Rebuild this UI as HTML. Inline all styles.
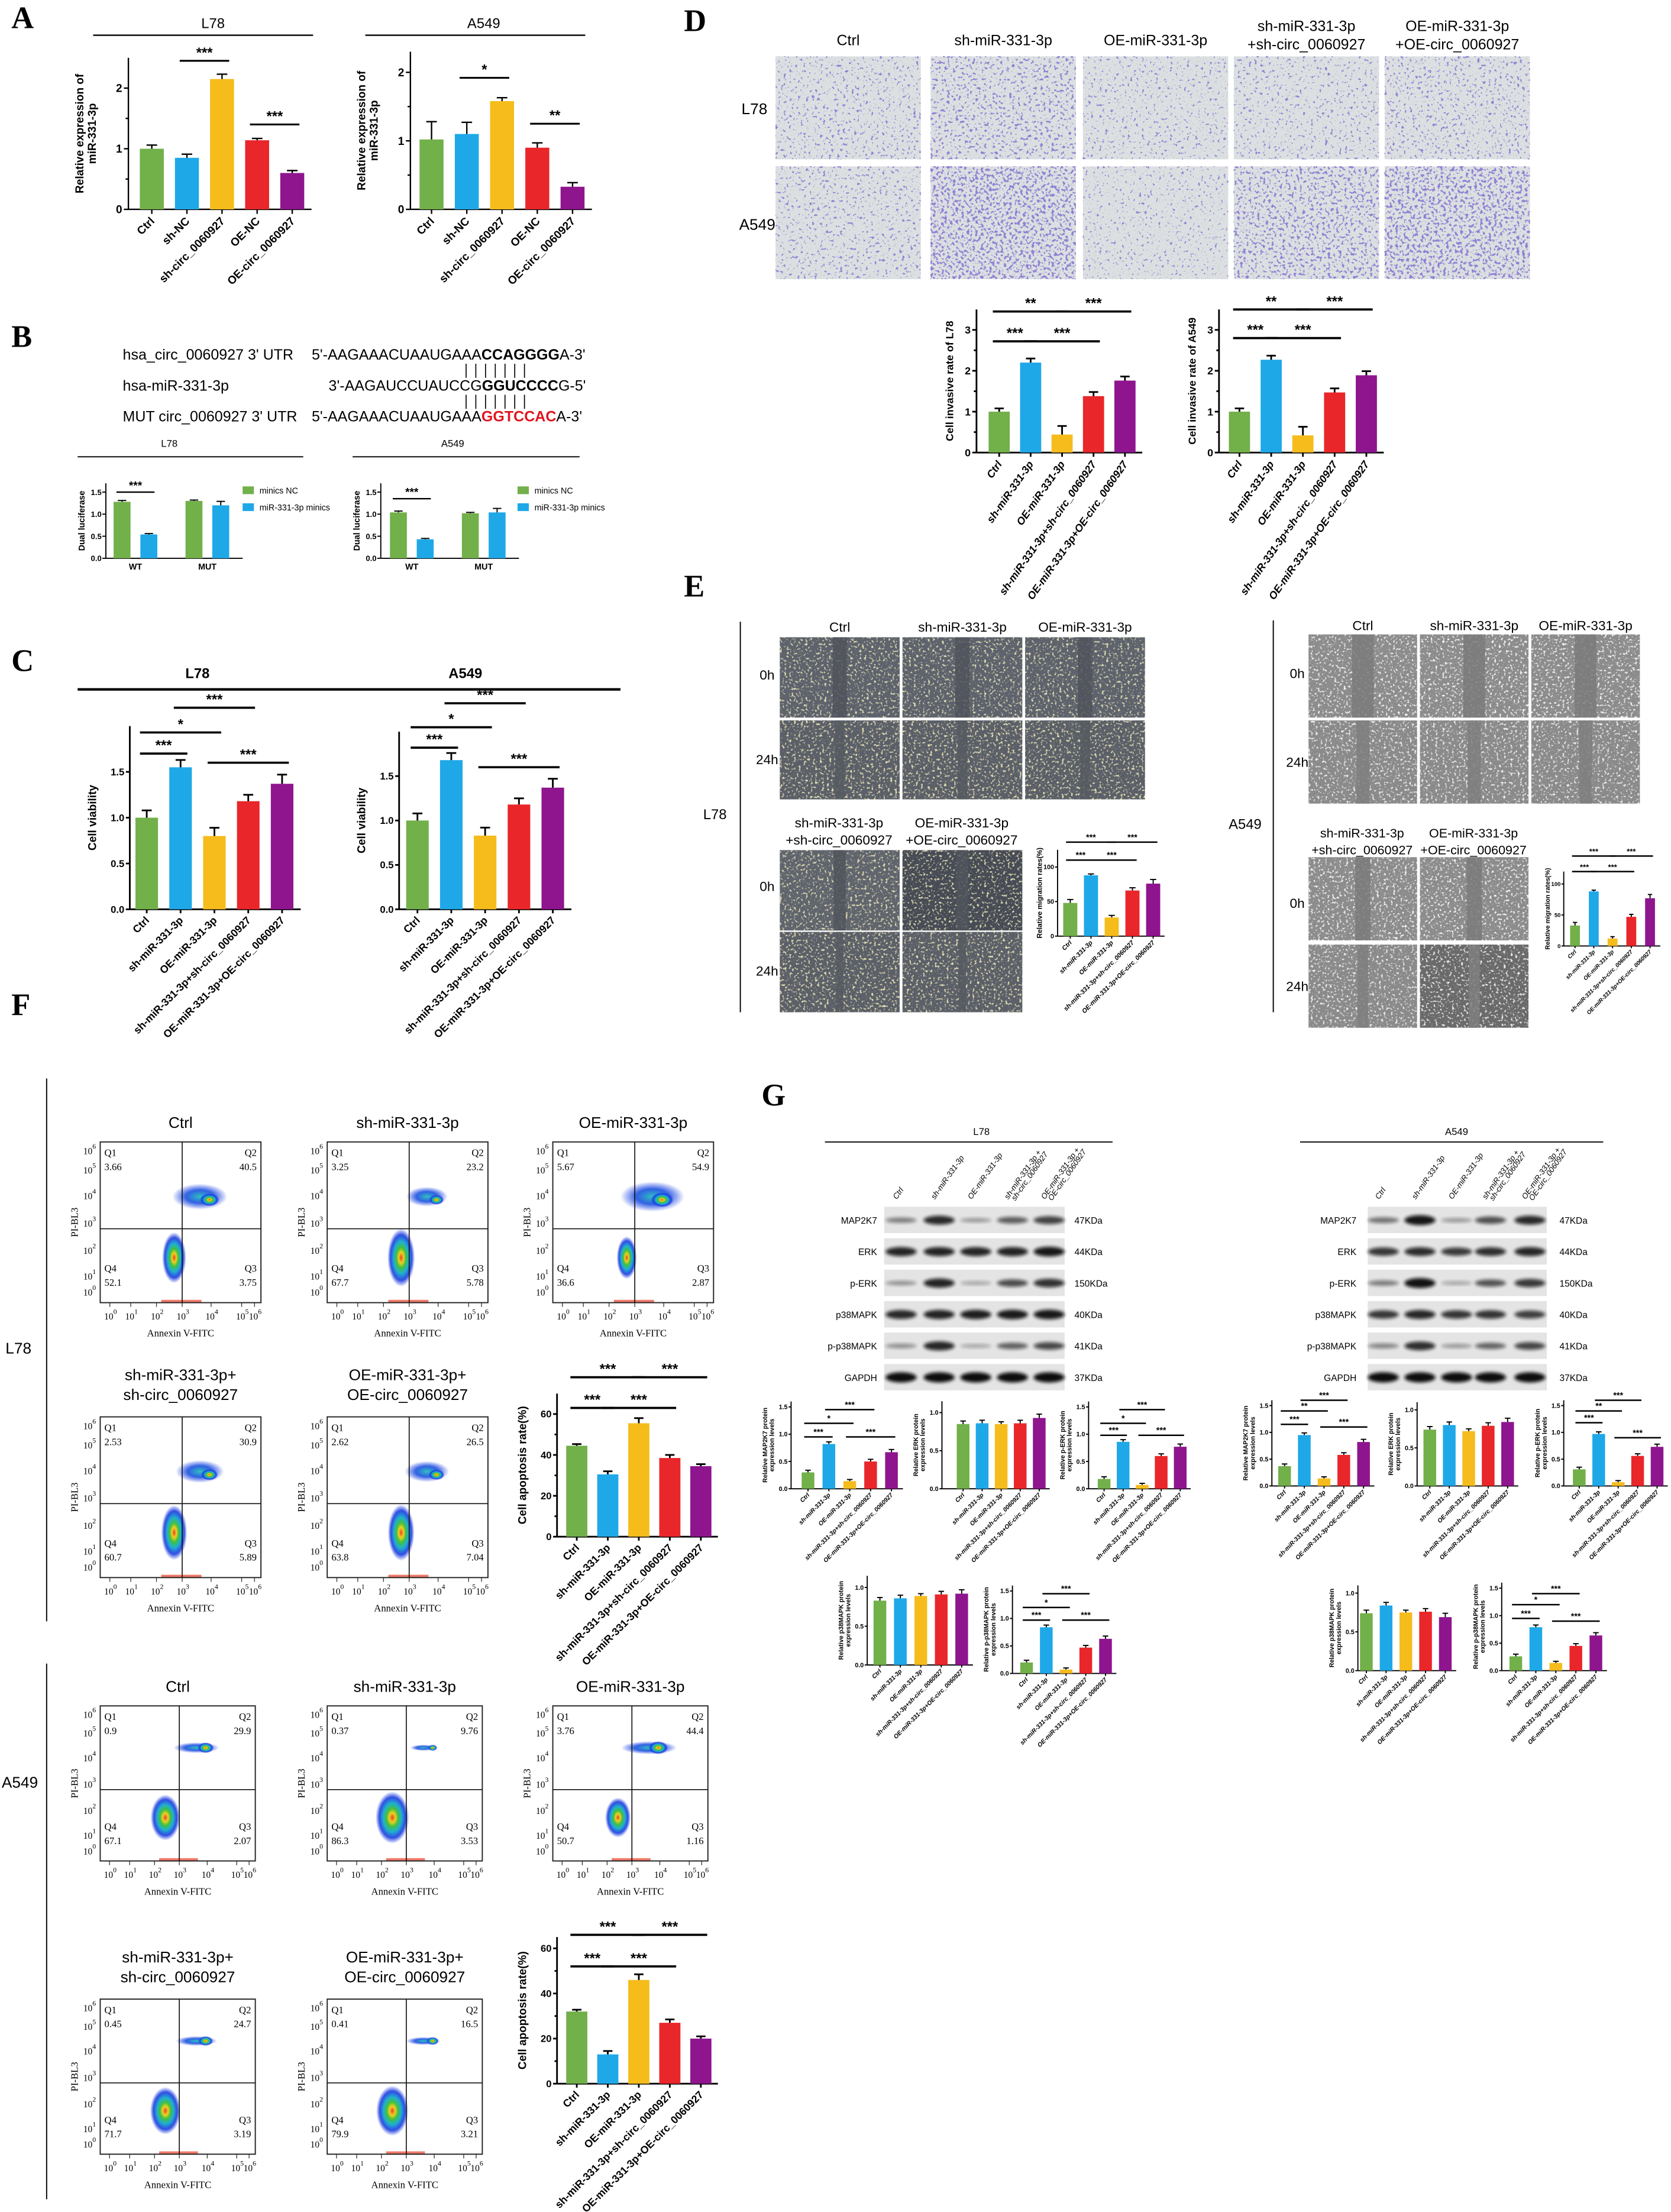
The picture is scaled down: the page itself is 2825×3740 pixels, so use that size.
<!DOCTYPE html>
<html><head><meta charset="utf-8">
<style>
html,body{margin:0;padding:0;background:#fff}
svg{display:block;font-family:"Liberation Sans",Arial,sans-serif}
.serif{font-family:"Liberation Serif","Times New Roman",serif}
</style></head>
<body>
<svg id="fig" xmlns="http://www.w3.org/2000/svg" width="2825" height="3740" viewBox="0 0 1185 1569">
<defs>
<filter id="blur1" x="-20%" y="-50%" width="140%" height="200%"><feGaussianBlur stdDeviation="1.2"/></filter>
<radialGradient id="fc">
<stop offset="0" stop-color="#e8402a"/>
<stop offset="0.18" stop-color="#f0d020"/>
<stop offset="0.35" stop-color="#40c040"/>
<stop offset="0.55" stop-color="#20b0d0"/>
<stop offset="0.78" stop-color="#1a3ae0" stop-opacity="0.9"/>
<stop offset="1" stop-color="#1a3ae0" stop-opacity="0"/>
</radialGradient>
<radialGradient id="fcb">
<stop offset="0" stop-color="#30c0c0"/>
<stop offset="0.5" stop-color="#1a50e0" stop-opacity="0.9"/>
<stop offset="1" stop-color="#1a3ae0" stop-opacity="0"/>
</radialGradient>
</defs>
<g id="root"></g>
</svg>
<script>
// ---------------- DATA ----------------
const colors = ['#72b04a','#1ea8e8','#f5bc1c','#e9262a','#8e158e'];
const aCats = ['Ctrl','sh-NC','sh-circ_0060927','OE-NC','OE-circ_0060927'];
const aL78 = [1.0,0.85,2.15,1.14,0.6];
const aL78Err = [0.06,0.06,0.08,0.03,0.04];
const aA549 = [1.02,1.1,1.58,0.9,0.33];
const aA549Err = [0.26,0.17,0.05,0.07,0.06];
const bCats = ['WT','MUT'];
const bL78Nc = [1.28,1.3];
const bL78Mim = [0.54,1.2];
const bA549Nc = [1.04,1.02];
const bA549Mim = [0.43,1.04];
const bErrNc = [0.03,0.02];
const bErrMim = [0.02,0.09];
const cCats = ['Ctrl','sh-miR-331-3p','OE-miR-331-3p','sh-miR-331-3p+sh-circ_0060927','OE-miR-331-3p+OE-circ_0060927'];
const cL78 = [1.0,1.55,0.8,1.18,1.37];
const cA549 = [1.0,1.68,0.83,1.18,1.37];
const cErr = [0.08,0.08,0.09,0.07,0.1];
const dL78 = [1.0,2.2,0.44,1.38,1.76];
const dA549 = [1.0,2.27,0.42,1.47,1.89];
const dErr = [0.08,0.1,0.21,0.1,0.1];
const eL78 = [48,88,27,66,76];
const eA549 = [33,88,12,47,77];
const eErr = [5,2,3,4,6];
const fL78 = [44.5,30.5,55.5,38.5,34.5];
const fA549 = [32,13,46,27,20];
const fErr = [0.8,1.5,2.5,1.5,1];
const flowTitles = ['Ctrl','sh-miR-331-3p','OE-miR-331-3p','sh-miR-331-3p+|sh-circ_0060927','OE-miR-331-3p+|OE-circ_0060927'];
const flowL78 = [[3.66,40.5,3.75,52.1],[3.25,23.2,5.78,67.7],[5.67,54.9,2.87,36.6],[2.53,30.9,5.89,60.7],[2.62,26.5,7.04,63.8]];
const flowA549 = [[0.90,29.9,2.07,67.1],[0.37,9.76,3.53,86.3],[3.76,44.4,1.16,50.7],[0.45,24.7,3.19,71.7],[0.41,16.5,3.21,79.9]];
const gL78Map = [0.30,0.82,0.14,0.50,0.67];
const gL78Erk = [0.85,0.86,0.85,0.86,0.93];
const gL78Perk = [0.18,0.86,0.07,0.60,0.77];
const gL78P38 = [0.83,0.86,0.89,0.91,0.92];
const gL78Pp38 = [0.20,0.84,0.07,0.47,0.63];
const gA549Map = [0.37,0.95,0.14,0.58,0.82];
const gA549Erk = [0.74,0.80,0.72,0.79,0.84];
const gA549Perk = [0.31,0.97,0.07,0.56,0.73];
const gA549P38 = [0.74,0.84,0.75,0.76,0.69];
const gA549Pp38 = [0.26,0.79,0.14,0.45,0.64];
const gGapdh = [1,1,1,1,1];
const gErr = [0.04,0.04,0.03,0.04,0.05];
const blotRows = ['MAP2K7','ERK','p-ERK','p38MAPK','p-p38MAPK','GAPDH'];
const blotKda = ['47KDa','44KDa','150KDa','40KDa','41KDa','37KDa'];
const blotLanes = ['Ctrl','sh-miR-331-3p','OE-miR-331-3p','sh-miR-331-3p +|sh-circ_0060927','OE-miR-331-3p +|OE-circ_0060927'];

// ---------------- HELPERS ----------------
const NS='http://www.w3.org/2000/svg';
const root=document.getElementById('root');
function mk(tag,attrs,parent){const e=document.createElementNS(NS,tag);for(const k in attrs)e.setAttribute(k,attrs[k]);(parent||root).appendChild(e);return e;}
function txt(s,x,y,fs,parent,extra){const t=mk('text',Object.assign({x:x,y:y,'font-size':fs},extra||{}),parent);t.textContent=s;return t;}

function barChart(name,cfg,cats,vals,errs,sig){
  const g=mk('g',{});
  
  
  const Y=v=>cfg.y0-v*cfg.ppu;
  const n=vals.length;
  const sw=cfg.sw||1;
  const ax=mk('line',{x1:cfg.ax,y1:cfg.y0,x2:cfg.ax,y2:Y(cfg.ymax),stroke:'#000','stroke-width':sw},g);
  
  const xr=cfg.x1+cfg.step*(n-1)+cfg.step*0.55;
  const xa=mk('line',{x1:cfg.ax,y1:cfg.y0,x2:xr,y2:cfg.y0,stroke:'#000','stroke-width':sw},g);
  
  cfg.ticks.forEach(t=>{
    mk('line',{x1:cfg.ax-cfg.fs*0.4,y1:Y(t),x2:cfg.ax,y2:Y(t),stroke:'#000','stroke-width':sw},g);
    const tl=txt(cfg.fmt?t.toFixed(cfg.fmt):String(t),cfg.ax-cfg.fs*0.55,Y(t)+cfg.fs*0.35,cfg.fs,g,{'text-anchor':'end','font-weight':'bold'});
    
  });
  if(cfg.minor){cfg.minor.forEach(t=>mk('line',{x1:cfg.ax-cfg.fs*0.25,y1:Y(t),x2:cfg.ax,y2:Y(t),stroke:'#000','stroke-width':sw},g));}
  const lines=cfg.ylabel.split('|');
  const cy=(cfg.y0+Y(cfg.ymax))/2;
  lines.forEach((l,k)=>{
    const xx=cfg.ax-cfg.ylOff+k*cfg.ylFs*1.1;
    const yl=txt(l,xx,cy,cfg.ylFs,g,{'text-anchor':'middle','font-weight':'bold',transform:`rotate(-90 ${xx} ${cy})`});
    
  });
  vals.forEach((v,i)=>{
    const cx=cfg.x1+i*cfg.step;
    const b=mk('rect',{x:cx-cfg.w/2,y:Y(v),width:cfg.w,height:v*cfg.ppu,fill:colors[i]},g);
    
    
    const e=errs[i];
    mk('line',{x1:cx,y1:Y(v),x2:cx,y2:Y(v+e),stroke:'#000','stroke-width':sw},g);
    mk('line',{x1:cx-cfg.w*0.22,y1:Y(v+e),x2:cx+cfg.w*0.22,y2:Y(v+e),stroke:'#000','stroke-width':sw},g);
    mk('line',{x1:cx,y1:cfg.y0,x2:cx,y2:cfg.y0+cfg.fs*0.4,stroke:'#000','stroke-width':sw},g);
    const lx=cx+cfg.cfs*0.3, ly=cfg.y0+cfg.cfs*1.1;
    const cl=txt(cats[i],lx,ly,cfg.cfs,g,{'text-anchor':'end','font-weight':'bold','font-style':cfg.italic?'italic':'normal',transform:`rotate(${cfg.rot||-45} ${lx} ${ly})`});
    
  });
  (sig||[]).forEach(s=>{
    const xa1=cfg.x1+s[0]*cfg.step-cfg.w*0.3, xa2=cfg.x1+s[1]*cfg.step+cfg.w*0.3, yy=Y(s[2]);
    const ln=mk('line',{x1:xa1,y1:yy,x2:xa2,y2:yy,stroke:'#000','stroke-width':sw*1.3},g);
    
    const st=txt(s[3],(xa1+xa2)/2,yy-cfg.sfs*0.25,cfg.sfs,g,{'text-anchor':'middle','font-weight':'bold'});
    
  });
  return g;
}

function grouped(name,cfg,nc,mim,sig){
  const g=mk('g',{});
  
  
  const Y=v=>cfg.y0-v*cfg.ppu;
  mk('line',{x1:cfg.ax,y1:cfg.y0,x2:cfg.ax,y2:Y(1.7),stroke:'#000','stroke-width':0.8},g);
  mk('line',{x1:cfg.ax,y1:cfg.y0,x2:cfg.c[1]+25,y2:cfg.y0,stroke:'#000','stroke-width':0.8},g);
  [0,0.5,1,1.5].forEach(t=>{
    mk('line',{x1:cfg.ax-2.5,y1:Y(t),x2:cfg.ax,y2:Y(t),stroke:'#000','stroke-width':0.8},g);
    const tl=txt(t.toFixed(1),cfg.ax-3,Y(t)+2,5.5,g,{'text-anchor':'end','font-weight':'bold'});
    
  });
  const cy=(cfg.y0+Y(1.7))/2;
  const yl=txt('Dual luciferase',cfg.ax-15,cy,6,g,{'text-anchor':'middle','font-weight':'bold',transform:`rotate(-90 ${cfg.ax-15} ${cy})`});
  
  bCats.forEach((c,i)=>{
    const x0=cfg.c[i]-cfg.off, x1=cfg.c[i]+cfg.off;
    const r1=mk('rect',{x:x0-6,y:Y(nc[i]),width:12,height:nc[i]*cfg.ppu,fill:colors[0]},g);
    
    const r2=mk('rect',{x:x1-6,y:Y(mim[i]),width:12,height:mim[i]*cfg.ppu,fill:colors[1]},g);
    
    [[x0,nc[i],bErrNc[i]],[x1,mim[i],bErrMim[i]]].forEach(p=>{
      mk('line',{x1:p[0],y1:Y(p[1]),x2:p[0],y2:Y(p[1]+p[2]),stroke:'#000','stroke-width':0.8},g);
      mk('line',{x1:p[0]-3,y1:Y(p[1]+p[2]),x2:p[0]+3,y2:Y(p[1]+p[2]),stroke:'#000','stroke-width':0.8},g);
    });
    const cl=txt(c,cfg.c[i],cfg.y0+8,6,g,{'text-anchor':'middle','font-weight':'bold'});
    
  });
  const ln=mk('line',{x1:cfg.c[0]-cfg.off-4,y1:Y(sig),x2:cfg.c[0]+cfg.off+4,y2:Y(sig),stroke:'#000','stroke-width':1},g);
  
  const st=txt('***',cfg.c[0],Y(sig)-2,8,g,{'text-anchor':'middle','font-weight':'bold'});
  
  const l1=mk('rect',{x:cfg.lx,y:345,width:8,height:5.5,fill:colors[0]},g);
  
  const lt1=txt('minics NC',cfg.lx+12,350,6,g);
  
  const l2=mk('rect',{x:cfg.lx,y:357,width:8,height:5.5,fill:colors[1]},g);
  
  const lt2=txt('miR-331-3p minics',cfg.lx+12,362,6,g);
  
}

function panelLetter(s,x,y){const t=txt(s,x,y,22,root,{'font-weight':'bold',class:'serif'});}
function hline(x1,x2,y,w){mk('line',{x1:x1,y1:y,x2:x2,y2:y,stroke:'#000','stroke-width':w||1});}
function vline(x,y1,y2,w){mk('line',{x1:x,y1:y1,x2:x,y2:y2,stroke:'#000','stroke-width':w||0.8});}
function label(s,x,y,fs,anchor,name,bold){const t=txt(s,x,y,fs,root,{'text-anchor':anchor||'middle','font-weight':bold?'bold':'normal'});return t;}

let fid=0;
function noiseFilter(freq,seed,r,g,b,slope,off){
  const id='nf'+(fid++);
  const f=mk('filter',{id:id,x:0,y:0,width:1,height:1},document.querySelector('defs'));
  mk('feTurbulence',{type:'fractalNoise',baseFrequency:freq,numOctaves:2,seed:seed},f);
  mk('feColorMatrix',{values:`0 0 0 0 ${r} 0 0 0 0 ${g} 0 0 0 0 ${b} ${slope} 0 0 0 ${off}`},f);
  return id;
}
function transwell(x,y,w,h,density,seed,name){
  const g=mk('g',{});
  
  
  mk('rect',{x:x,y:y,width:w,height:h,fill:'#dde0e2'},g);
  const id0=noiseFilter(0.9,seed+100,0.5,0.52,0.52,8,-5.0);
  mk('rect',{x:x,y:y,width:w,height:h,fill:'#000',filter:`url(#${id0})`,opacity:0.6},g);
  const id=noiseFilter(0.5,seed,0.27,0.22,0.66,12,-8.2+density);
  mk('rect',{x:x,y:y,width:w,height:h,fill:'#000',filter:`url(#${id})`},g);
}
function scratch(x,y,w,h,base,grain,band,gap,seed,name){
  const g=mk('g',{});
  
  
  mk('rect',{x:x,y:y,width:w,height:h,fill:base},g);
  const id=noiseFilter(0.6,seed,grain[0],grain[1],grain[2],6,-3.4);
  mk('rect',{x:x,y:y,width:w,height:h,fill:'#000',filter:`url(#${id})`},g);
  mk('rect',{x:x+w*(0.5-gap/2),y:y,width:w*gap,height:h,fill:band,opacity:0.85},g);
}

// ---------------- PANEL A ----------------
panelLetter('A',8,20);
label('L78',151,20,10,'middle','title-l78-a');
hline(66,222,25);
label('A549',343,20,10,'middle','title-a549-a');
hline(259,415,25);
barChart('chart-a-l78',{ax:91,y0:148.5,ppu:43,ymax:2.5,ticks:[0,1,2],minor:[0.5,1.5],x1:107.6,step:24.9,w:17,fs:8,cfs:8,sfs:10,ylabel:'Relative expression of|miR-331-3p',ylOff:32,ylFs:8,sw:1},aCats,aL78,aL78Err,[[1,2,2.45,'***'],[3,4,1.4,'***']]);
barChart('chart-a-a549',{ax:291,y0:148.5,ppu:48.6,ymax:2.3,ticks:[0,1,2],minor:[0.5,1.5],x1:306,step:25,w:17,fs:8,cfs:8,sfs:10,ylabel:'Relative expression of|miR-331-3p',ylOff:32,ylFs:8,sw:1},aCats,aA549,aA549Err,[[1,2,1.92,'*'],[3,4,1.25,'**']]);

// ---------------- PANEL B ----------------
panelLetter('B',8,246);
label('hsa_circ_0060927 3\' UTR',87,255,10.5,'start','seq-label-circ');
label('hsa-miR-331-3p',87,277,10.5,'start','seq-label-mir');
label('MUT circ_0060927 3\' UTR',87,299,10.5,'start','seq-label-mut');
(function(){
  const t1=txt('5\'-AAGAAACUAAUGAAA',221,255,10.5);
  const s1=mk('tspan',{'font-weight':'bold'},t1);s1.textContent='CCAGGGG';
  const s1b=mk('tspan',{},t1);s1b.textContent='A-3\'';
  const t2=txt('3\'-AAGAUCCUAUCCG',233,277,10.5);
  const s2=mk('tspan',{'font-weight':'bold'},t2);s2.textContent='GGUCCCC';
  const s2b=mk('tspan',{},t2);s2b.textContent='G-5\'';
  const t3=txt('5\'-AAGAAACUAAUGAAA',221,299,10.5);
  const s3=mk('tspan',{'font-weight':'bold',fill:'#e0141e'},t3);s3.textContent='GGTCCAC';
  const s3b=mk('tspan',{},t3);s3b.textContent='A-3\'';
  for(let k=0;k<7;k++){const x=330.5+k*6.9;vline(x,258,268,0.7);vline(x,280,290,0.7);}
})();
label('L78',120,317,7,'middle','title-l78-b');
hline(55,215,324,0.8);
label('A549',321,317,7,'middle','title-a549-b');
hline(250,411,324,0.8);
grouped('chart-b-l78',{ax:75,y0:396,ppu:31.3,c:[96,147],off:9.5,lx:172},bL78Nc,bL78Mim,1.5);
grouped('chart-b-a549',{ax:270,y0:396,ppu:31.3,c:[292,343],off:9.5,lx:367},bA549Nc,bA549Mim,1.35);

// ---------------- PANEL C ----------------
panelLetter('C',8,476);
label('L78',140,481,10,'middle','title-l78-c',true);
label('A549',330,481,10,'middle','title-a549-c',true);
hline(55,440,489,1.8);
barChart('chart-c-l78',{ax:92,y0:645,ppu:65,ymax:2.0,ticks:[0,0.5,1,1.5],fmt:1,x1:104,step:24,w:16,fs:7,cfs:7.5,sfs:10,ylabel:'Cell viability',ylOff:24,ylFs:8,sw:1.2},cCats,cL78,cErr,[[0,1,1.7,'***'],[0,2,1.93,'*'],[1,3,2.2,'***'],[2,4,1.6,'***']]);
barChart('chart-c-a549',{ax:283,y0:645,ppu:63,ymax:2.0,ticks:[0,0.5,1,1.5],fmt:1,x1:296,step:24,w:16,fs:7,cfs:7.5,sfs:10,ylabel:'Cell viability',ylOff:24,ylFs:8,sw:1.2},cCats,cA549,cErr,[[0,1,1.82,'***'],[0,2,2.05,'*'],[1,3,2.32,'***'],[2,4,1.6,'***']]);

// ---------------- PANEL D ----------------
panelLetter('D',485,22);
const dCols=[550,660,768,875,982];
const dTitles=['Ctrl','sh-miR-331-3p','OE-miR-331-3p','sh-miR-331-3p|+sh-circ_0060927','OE-miR-331-3p|+OE-circ_0060927'];
const dDensL78=[0.6,1.0,0.4,0.5,0.7];
const dDensA549=[0.6,1.7,0.3,1.2,1.6];
dCols.forEach((x,i)=>{
  const parts=dTitles[i].split('|');
  parts.forEach((p,k)=>label(p,x+51.5,parts.length>1?(22+k*13):32,10.5,'middle','column-title-d'));
  transwell(x,40,103,73,dDensL78[i],10+i,'transwell-l78-'+i);
  transwell(x,118,103,80,dDensA549[i],20+i,'transwell-a549-'+i);
});
label('L78',535,81,11,'middle','row-label-l78-d');
label('A549',537,163,11,'middle','row-label-a549-d');
barChart('chart-d-l78',{ax:692.5,y0:321,ppu:29,ymax:3.5,ticks:[0,1,2,3],minor:[0.5,1.5,2.5],x1:708.6,step:22.3,w:15,fs:7.5,cfs:7.5,sfs:10,ylabel:'Cell invasive rate of L78',ylOff:16.5,ylFs:7.5,sw:1.2,italic:true,rot:-55},cCats,dL78,dErr,[[0,2,3.45,'**'],[2,4,3.45,'***'],[0,1,2.72,'***'],[1,3,2.72,'***']]);
barChart('chart-d-a549',{ax:864.5,y0:321,ppu:29,ymax:3.5,ticks:[0,1,2,3],minor:[0.5,1.5,2.5],x1:879,step:22.5,w:15,fs:7.5,cfs:7.5,sfs:10,ylabel:'Cell invasive rate of A549',ylOff:16.5,ylFs:7.5,sw:1.2,italic:true,rot:-55},cCats,dA549,dErr,[[0,2,3.5,'**'],[2,4,3.5,'***'],[0,1,2.8,'***'],[1,3,2.8,'***']]);

// ---------------- PANEL E ----------------
panelLetter('E',485,423);
vline(525,441,718,0.8);
vline(903,440,718,0.8);
const eLx=[553,640,727], eRx=[928,1007,1086];
['Ctrl','sh-miR-331-3p','OE-miR-331-3p'].forEach((t,i)=>{
  label(t,eLx[i]+42.5,448,9.5,'middle','column-title-e-l78');
  label(t,eRx[i]+38.5,447,9.5,'middle','column-title-e-a549');
  scratch(eLx[i],452,85,57,'#5d626c',[0.75,0.72,0.45],'#50545c',0.12,30+i,'scratch-l78-0h-'+i);
  scratch(eLx[i],511,85,56,'#5b5f68',[0.78,0.74,0.45],'#565a62',0.08,40+i,'scratch-l78-24h-'+i);
  scratch(eRx[i],450,77,59,'#8c8c8c',[0.92,0.92,0.92],'#7a7a7a',0.2,50+i,'scratch-a549-0h-'+i);
  scratch(eRx[i],511,77,59,'#8a8a8a',[0.85,0.85,0.85],'#7e7e7e',0.12,60+i,'scratch-a549-24h-'+i);
});
label('0h',544,482,9.5,'middle','row-label-0h');
label('24h',544,542,9.5,'middle','row-label-24h');
label('0h',920,481,9.5,'middle','row-label-0h');
label('24h',920,544,9.5,'middle','row-label-24h');
label('0h',544,632,9.5,'middle','row-label-0h');
label('24h',544,692,9.5,'middle','row-label-24h');
label('0h',920,644,9.5,'middle','row-label-0h');
label('24h',920,703,9.5,'middle','row-label-24h');
label('L78',507,581,10,'middle','row-label-l78-e');
label('A549',883,588,10,'middle','row-label-a549-e');
['sh-miR-331-3p|+sh-circ_0060927','OE-miR-331-3p|+OE-circ_0060927'].forEach((t,i)=>{
  const p=t.split('|');
  label(p[0],eLx[i]+42,587,9.5,'middle','column-title-e-l78-combo');
  label(p[1],eLx[i]+42,599,9.5,'middle','column-title-e-l78-combo');
  label(p[0],eRx[i]+38,594,9,'middle','column-title-e-a549-combo');
  label(p[1],eRx[i]+38,606,9,'middle','column-title-e-a549-combo');
  scratch(eLx[i],603,85,57,i?'#474b55':'#5f646d',[0.75,0.72,0.45],'#50545c',0.1,70+i,'scratch-l78-combo-0h-'+i);
  scratch(eLx[i],661,85,57,'#5b5f68',[0.78,0.74,0.45],'#565a62',0.06,80+i,'scratch-l78-combo-24h-'+i);
  scratch(eRx[i],608,77,59,'#8c8c8c',[0.92,0.92,0.92],'#7a7a7a',0.14,90+i,'scratch-a549-combo-0h-'+i);
  scratch(eRx[i],670,77,59,i?'#6a6a6a':'#8a8a8a',[0.85,0.85,0.85],'#7e7e7e',0.1,100+i,'scratch-a549-combo-24h-'+i);
});
barChart('chart-e-l78',{ax:750,y0:664,ppu:0.49,ymax:125,ticks:[0,50,100],x1:759,step:14.7,w:10,fs:4.5,cfs:4.5,sfs:6,ylabel:'Relative migration rates(%)',ylOff:11,ylFs:5,sw:0.8,italic:true},cCats,eL78,eErr,[[0,1,110,'***'],[1,3,110,'***'],[0,2,136,'***'],[2,4,136,'***']]);
barChart('chart-e-a549',{ax:1109,y0:671,ppu:0.44,ymax:120,ticks:[0,50,100],x1:1117,step:13.3,w:7,fs:4,cfs:4,sfs:5.5,ylabel:'Relative migration rates(%)',ylOff:10,ylFs:4.5,sw:0.8,italic:true},cCats,eA549,eErr,[[0,1,120,'***'],[1,3,120,'***'],[0,2,145,'***'],[2,4,145,'***']]);

// ---------------- PANEL F ----------------
panelLetter('F',8,720);
vline(33,765,1150,0.8);
vline(33,1180,1560,0.8);
label('L78',13,960,11,'middle','row-label-l78-f');
label('A549',14,1268,11,'middle','row-label-a549-f');
function flow(x,y,s,q,title,name,a549){
  const g=mk('g',{});
  
  
  const tl=title.split('|');
  tl.forEach((t,k)=>{const tt=txt(t,x+s/2,tl.length>1?y-26+k*14:y-10,11,g,{'text-anchor':'middle'});});
  const vx=x+s*0.51, hy=y+s*0.54;
  const live=q[3]/60, dead=q[1]/40;
  mk('ellipse',{cx:x+s*(a549?0.42:0.46),cy:y+s*0.72,rx:s*(a549?0.09:0.08)*Math.sqrt(live),ry:s*(a549?0.14:0.17)*Math.sqrt(live),fill:'url(#fc)'},g);
  mk('ellipse',{cx:x+s*0.62,cy:y+s*(a549?0.27:0.34),rx:s*0.17*Math.sqrt(dead),ry:s*(a549?0.04:0.08)*Math.sqrt(dead),fill:'url(#fcb)'},g);
  mk('ellipse',{cx:x+s*0.68,cy:y+s*(a549?0.27:0.36),rx:s*0.06*Math.sqrt(dead),ry:s*0.04*Math.sqrt(dead),fill:'url(#fc)'},g);
  mk('rect',{x:x+s*0.38,y:y+s-2,width:s*0.25,height:2,fill:'#e8402a',opacity:0.7},g);
  const box=mk('rect',{x:x,y:y,width:s,height:s,fill:'none',stroke:'#222','stroke-width':0.8},g);
  
  mk('line',{x1:vx,y1:y,x2:vx,y2:y+s,stroke:'#111','stroke-width':0.7},g);
  mk('line',{x1:x,y1:hy,x2:x+s,y2:hy,stroke:'#111','stroke-width':0.7},g);
  const f=7;
  const qq=[['Q1',q[0],x+3,y+10,'start'],['Q2',q[1],x+s-3,y+10,'end'],['Q3',q[2],x+s-3,y+s-22,'end'],['Q4',q[3],x+3,y+s-22,'start']];
  qq.forEach(a=>{
    const t1=txt(a[0],a[2],a[3],f,g,{'text-anchor':a[4],class:'serif'});
    const t2=txt(String(a[1]),a[2],a[3]+10,f,g,{'text-anchor':a[4],class:'serif'});
  });
  const yp=[0.05,0.17,0.33,0.5,0.67,0.83,0.93];
  yp.forEach((p,k)=>{
    const t=txt('10',x-3,y+s*p+3,6.5,g,{'text-anchor':'end',class:'serif'});
    const sp=mk('tspan',{dy:-4,'font-size':5},t);sp.textContent=String(6-k);
  });
  const xp=[0.06,0.19,0.35,0.51,0.69,0.88,0.96];
  xp.forEach((p,k)=>{
    const t=txt('10',x+s*p-4,y+s+12,6.5,g,{class:'serif'});
    const sp=mk('tspan',{dy:-4,'font-size':5},t);sp.textContent=String(k);
    mk('line',{x1:x+s*p,y1:y+s,x2:x+s*p,y2:y+s+3,stroke:'#222','stroke-width':0.5},g);
  });
  const yl=txt('PI-BL3',x-16,y+s/2,7,g,{'text-anchor':'middle',class:'serif',transform:`rotate(-90 ${x-16} ${y+s/2})`});
  
  const xl=txt('Annexin V-FITC',x+s/2,y+s+24,7,g,{'text-anchor':'middle',class:'serif'});
  
}
const fX=[71,232,392];
const fYL78=[810,1005], fYA549=[1210,1418];
for(let i=0;i<5;i++){
  const r=i<3?0:1, c=i<3?i:i-3;
  flow(fX[c],fYL78[r],114,flowL78[i],flowTitles[i],'flow-plot-l78-'+i,false);
  flow(fX[c],fYA549[r],110,flowA549[i],flowTitles[i],'flow-plot-a549-'+i,true);
}
barChart('chart-f-l78',{ax:395,y0:1090,ppu:1.45,ymax:70,ticks:[0,20,40,60],minor:[10,30,50],x1:409,step:22,w:15,fs:7,cfs:7.5,sfs:10,ylabel:'Cell apoptosis rate(%)',ylOff:22,ylFs:8,sw:1.2},cCats,fL78,fErr,[[0,1,63,'***'],[1,3,63,'***'],[0,2,78,'***'],[2,4,78,'***']]);
barChart('chart-f-a549',{ax:395,y0:1478,ppu:1.6,ymax:65,ticks:[0,20,40,60],minor:[10,30,50],x1:409,step:22,w:15,fs:7,cfs:7.5,sfs:10,ylabel:'Cell apoptosis rate(%)',ylOff:22,ylFs:8,sw:1.2},cCats,fA549,fErr,[[0,1,52,'***'],[1,3,52,'***'],[0,2,66,'***'],[2,4,66,'***']]);

// ---------------- PANEL G ----------------
panelLetter('G',540,784);
function blot(name,title,tx,lx1,lx2,bx,bw,lanes,rowsData,labelX,kdaX){
  const g=mk('g',{});
  
  
  const t=txt(title,tx,805,7,g,{'text-anchor':'middle'});
  mk('line',{x1:lx1,y1:810,x2:lx2,y2:810,stroke:'#000','stroke-width':0.8},g);
  blotLanes.forEach((l,i)=>{
    const p=l.split('|');
    p.forEach((s,k)=>{
      const lxp=lanes[i]-3+k*5, lyp=851+k*1;
      const lt=txt(s,lxp,lyp,5.5,g,{'font-style':'italic',transform:`rotate(-55 ${lxp} ${lyp})`});
      
    });
  });
  rowsData.forEach((vals,r)=>{
    const y=856+r*22.3;
    mk('rect',{x:bx,y:y,width:bw,height:18.7,fill:'#e4e4e4'},g);
    vals.forEach((v,i)=>{
      const b=mk('ellipse',{cx:lanes[i],cy:y+9.5,rx:11,ry:1.2+2.4*v,fill:'#111',opacity:0.25+0.75*Math.min(1,v),filter:'url(#blur1)'},g);
      
    });
    const rl=txt(blotRows[r],labelX,y+12,6.5,g,{'text-anchor':'end'});
    const kl=txt(blotKda[r],kdaX,y+12,6.5,g);
  });
}
blot('blot-l78','L78',696,585,789,627,128,[639,666,692,718,744],[gL78Map,gL78Erk,gL78Perk,gL78P38,gL78Pp38,gGapdh],622,762);
blot('blot-a549','A549',1033,922,1137,970,127,[981,1007,1033,1057,1085],[gA549Map,gA549Erk,gA549Perk,gA549P38,gA549Pp38,gGapdh],962,1106);
const gc={fs:4.5,cfs:4.3,sfs:6,ylOff:17,ylFs:4.5,sw:0.8,italic:true};
function gcfg(ax,y0,ppu,ymax,ticks,x1,step,w,yl){return Object.assign({},gc,{ax:ax,y0:y0,ppu:ppu,ymax:ymax,ticks:ticks,fmt:1,x1:x1,step:step,w:w,ylabel:yl});}
barChart('chart-g-l78-map2k7',gcfg(561,1056,38.7,1.6,[0,0.5,1,1.5],573,14.8,9,'Relative MAP2K7 protein|expression levels'),cCats,gL78Map,gErr,[[0,1,0.95,'***'],[0,2,1.2,'*'],[1,3,1.45,'***'],[2,4,0.95,'***']]);
barChart('chart-g-l78-erk',gcfg(668,1056,54,1.15,[0,0.5,1.0],683,13.5,9,'Relative ERK protein|expression levels'),cCats,gL78Erk,gErr,[]);
barChart('chart-g-l78-perk',gcfg(772,1056,38.7,1.6,[0,0.5,1,1.5],783,13.5,9,'Relative p-ERK protein|expression levels'),cCats,gL78Perk,gErr,[[0,1,0.98,'***'],[0,2,1.2,'*'],[1,3,1.45,'***'],[2,4,0.98,'***']]);
barChart('chart-g-l78-p38',gcfg(615,1181,55,1.15,[0,0.5,1.0],624,14.5,9,'Relative p38MAPK protein|expression levels'),cCats,gL78P38,gErr,[]);
barChart('chart-g-l78-pp38',gcfg(718,1187,39,1.6,[0,0.5,1,1.5],728,14,9,'Relative p-p38MAPK protein|expression levels'),cCats,gL78Pp38,gErr,[[0,1,0.97,'***'],[0,2,1.2,'*'],[1,3,1.45,'***'],[2,4,0.97,'***']]);
barChart('chart-g-a549-map2k7',gcfg(902,1054,38,1.6,[0,0.5,1,1.5],911,14,9,'Relative MAP2K7 protein|expression levels'),cCats,gA549Map,gErr,[[0,1,1.15,'***'],[0,2,1.4,'**'],[1,3,1.6,'***'],[2,4,1.1,'***']]);
barChart('chart-g-a549-erk',gcfg(1005,1054,54,1.1,[0,0.5,1.0],1014,13.8,9,'Relative ERK protein|expression levels'),cCats,gA549Erk,gErr,[]);
barChart('chart-g-a549-perk',gcfg(1109,1054,38,1.6,[0,0.5,1,1.5],1120,13.8,9,'Relative p-ERK protein|expression levels'),cCats,gA549Perk,gErr,[[0,1,1.18,'***'],[0,2,1.4,'**'],[1,3,1.6,'***'],[2,4,0.9,'***']]);
barChart('chart-g-a549-p38',gcfg(963,1185,55,1.1,[0,0.5,1.0],969,14,9,'Relative p38MAPK protein|expression levels'),cCats,gA549P38,gErr,[]);
barChart('chart-g-a549-pp38',gcfg(1065,1185,39,1.6,[0,0.5,1,1.5],1075,14.2,9,'Relative p-p38MAPK protein|expression levels'),cCats,gA549Pp38,gErr,[[0,1,0.95,'***'],[0,2,1.2,'*'],[1,3,1.4,'***'],[2,4,0.9,'***']]);
</script>
</body></html>
